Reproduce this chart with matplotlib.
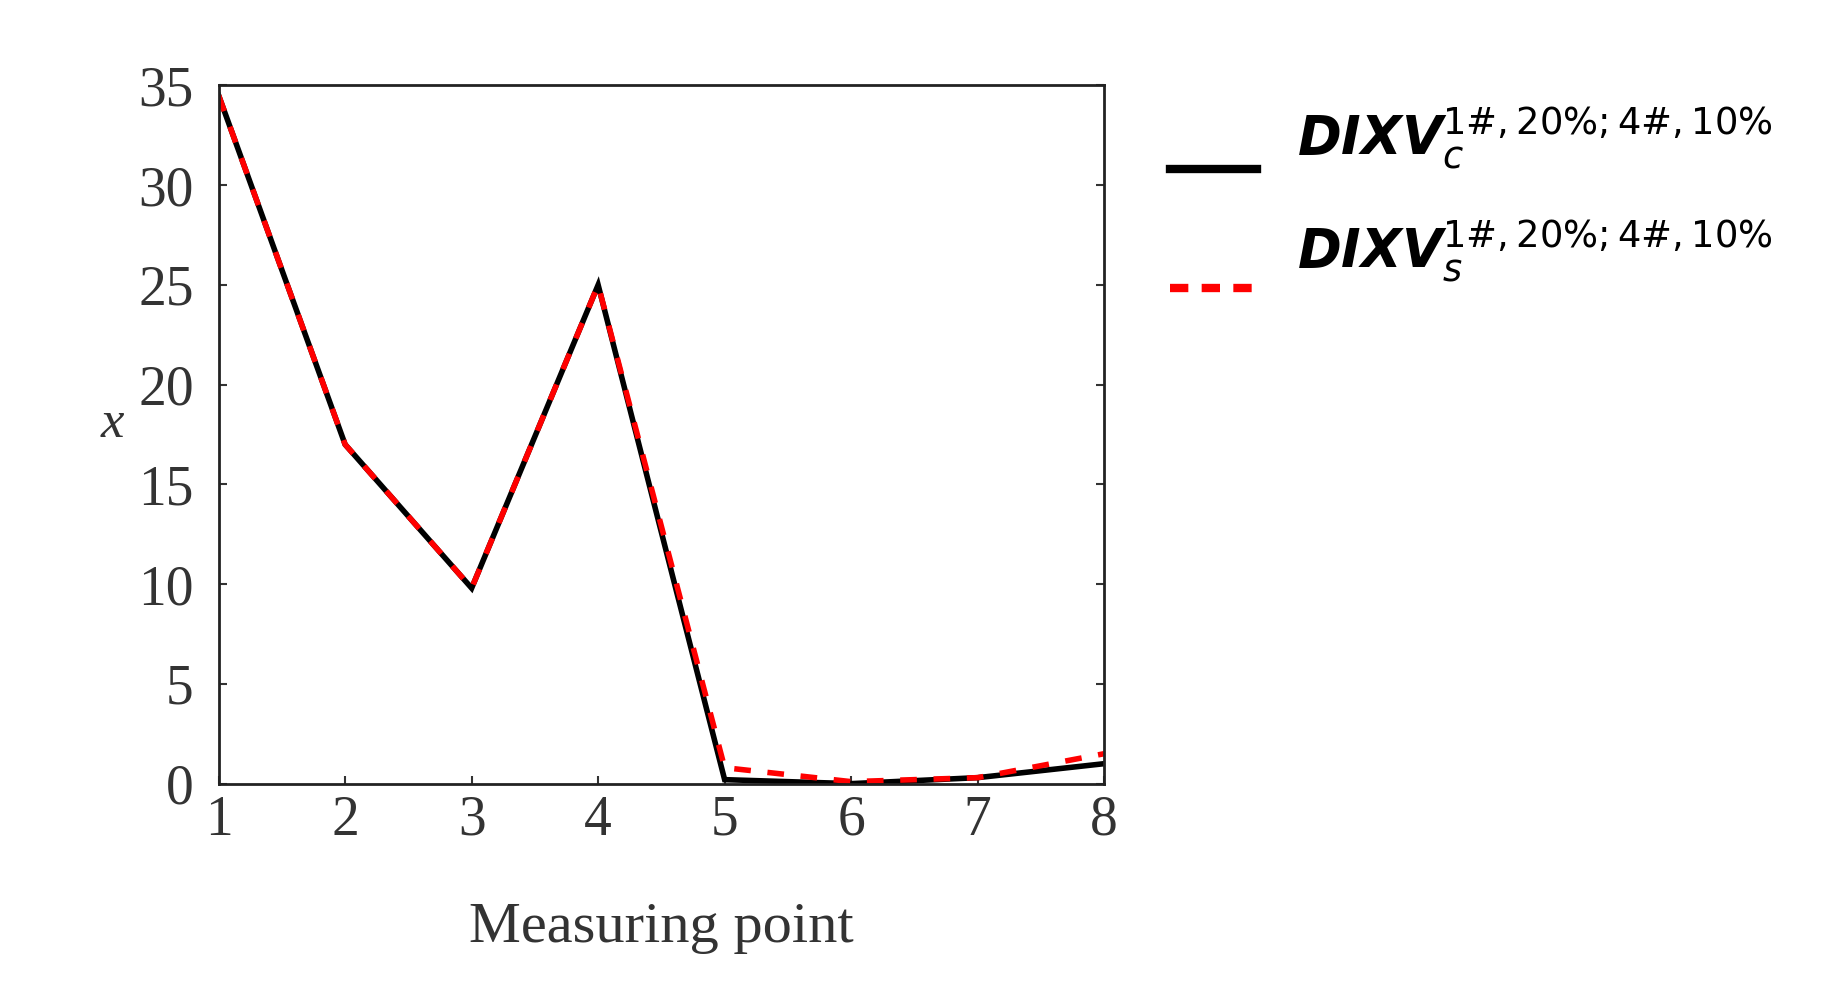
import matplotlib
matplotlib.use("Agg")
import matplotlib.pyplot as plt

points = [1, 2, 3, 4, 5, 6, 7, 8]
dixv_c = [34.5, 17.0, 9.8, 25.0, 0.2, 0.0, 0.3, 1.0]
dixv_s = [34.5, 17.0, 9.8, 25.0, 0.8, 0.1, 0.3, 1.5]
yticks = [0, 5, 10, 15, 20, 25, 30, 35]

plt.rcParams.update({"font.family": ["Liberation Serif", "DejaVu Serif"],
                     "mathtext.fontset": "dejavusans"})

fig = plt.figure(figsize=(18.22, 9.82), dpi=100)
ax = fig.add_axes([0.12, 0.202, 0.486, 0.711])
ax.plot(points, dixv_c, color="black", lw=4, solid_joinstyle="miter")
ax.plot(points, dixv_s, color="red", lw=4, ls=(0, (3, 3)))
ax.set_xlim(1, 8)
ax.set_ylim(0, 35)
ax.set_xticks(points)
ax.set_yticks(yticks)
ax.tick_params(direction="in", length=6, width=1.5, labelsize=40, color="#333333",
               right=True, top=False, labelcolor="#333333")
ax.tick_params(axis="x", pad=8)
ax.tick_params(axis="y", pad=18)
for s in ax.spines.values():
    s.set_linewidth(2)
    s.set_color("#222222")
ax.set_xlabel("Measuring point", fontsize=42, color="#333333", labelpad=40)
ax.set_ylabel("x", fontsize=38, color="#333333", rotation=0, fontstyle="italic")
ax.yaxis.set_label_coords(-0.12, 0.48)

# legend drawn by hand
sup = r"^{\mathrm{1\#,20\%;4\#,10\%}}"
fig.add_artist(plt.Line2D([0.642, 0.69], [0.828, 0.828], color="black", lw=6))
fig.add_artist(plt.Line2D([0.642, 0.69], [0.707, 0.707], color="red", lw=6,
                          ls=(0, (2.2, 1.6))))
fig.text(0.712, 0.86, r"$\mathbfit{DIXV}_{\mathit{c}}" + sup + "$", fontsize=38, va="center")
fig.text(0.712, 0.745, r"$\mathbfit{DIXV}_{\mathit{s}}" + sup + "$", fontsize=38, va="center")

fig.savefig("out.png", dpi=100, facecolor="white")
